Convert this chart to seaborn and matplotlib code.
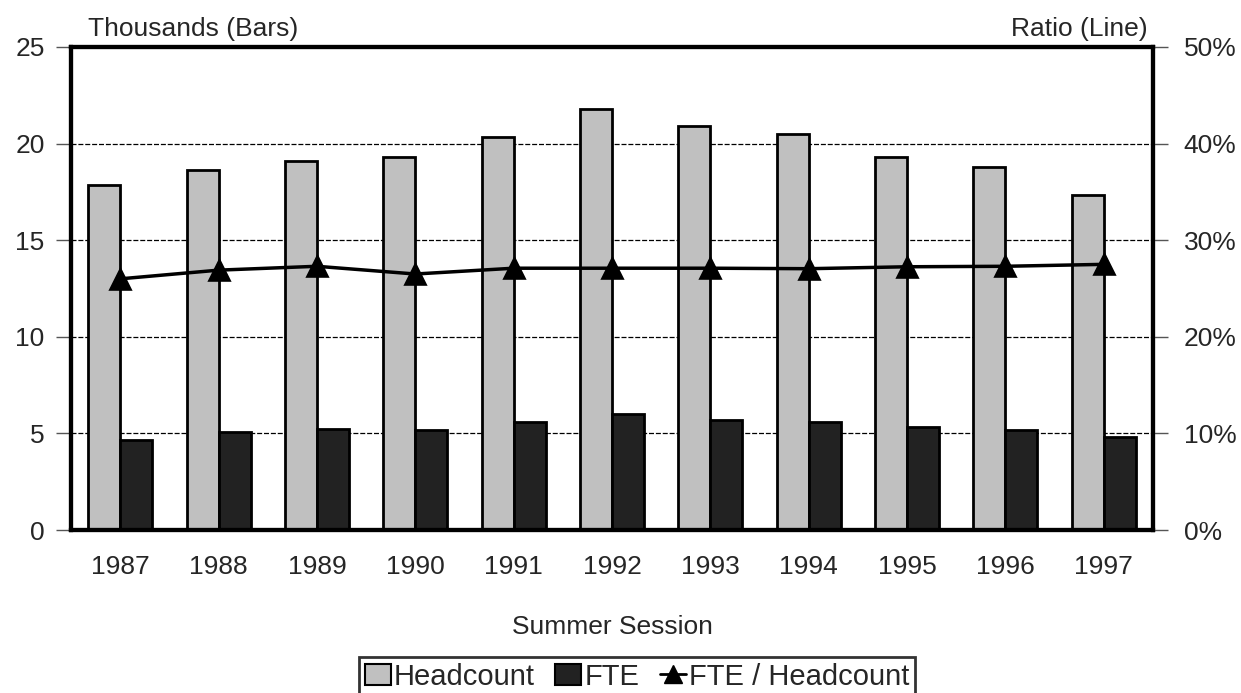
import matplotlib
matplotlib.use("Agg")
import matplotlib.pyplot as plt
import seaborn as sns
import pandas as pd
from matplotlib.patches import Patch
from matplotlib.lines import Line2D
from matplotlib.ticker import FuncFormatter

years = ["1987", "1988", "1989", "1990", "1991", "1992", "1993", "1994", "1995", "1996", "1997"]
headcount = [17.85, 18.61, 19.12, 19.31, 20.36, 21.77, 20.93, 20.48, 19.30, 18.80, 17.34]
fte = [4.67, 5.07, 5.23, 5.16, 5.58, 5.98, 5.70, 5.61, 5.31, 5.17, 4.81]
ratio = [26.0, 26.9, 27.3, 26.5, 27.1, 27.1, 27.1, 27.05, 27.25, 27.3, 27.5]
series_names = ["Headcount", "FTE", "FTE / Headcount"]
left_ticks = [0, 5, 10, 15, 20, 25]
right_ticks = [0, 10, 20, 30, 40, 50]

sns.set_style("white")
plt.rcParams["font.family"] = ["Liberation Sans", "DejaVu Sans"]

df = pd.DataFrame({
    "Year": years * 2,
    "Value": headcount + fte,
    "Series": [series_names[0]] * len(years) + [series_names[1]] * len(years),
})
df_ratio = pd.DataFrame({"Year": years, "Ratio": ratio})

fig = plt.figure(figsize=(12.41, 6.93), dpi=100)
ax = fig.add_axes([71 / 1241, 1 - 530 / 693, (1153 - 71) / 1241, (530 - 47) / 693])

FS = 19
grey = "#c0c0c0"
dark = "#222222"
sns.barplot(data=df, x="Year", y="Value", hue="Series", palette=[grey, dark],
            width=0.65, edgecolor="black", linewidth=2, ax=ax, legend=False,
            saturation=1)
ax.set_ylim(0, 25)
ax.set_yticks(left_ticks)
ax.set_axisbelow(True)
for v in left_ticks[1:-1]:
    ax.axhline(v, color="black", linestyle=(0, (4, 1.5)), linewidth=0.9, zorder=0)
ax.set_xlabel("Summer Session", fontsize=FS, labelpad=26)
ax.set_ylabel("")
ax.tick_params(axis="both", labelsize=FS, direction="out", color="#555555",
               length=11, width=1)
ax.tick_params(axis="x", pad=7)
ax.tick_params(axis="y", pad=8)
for s in ax.spines.values():
    s.set_linewidth(3)
    s.set_color("black")

ax2 = ax.twinx()
sns.pointplot(data=df_ratio, x="Year", y="Ratio", color="black", markers="^",
              markersize=14, linewidth=2.5, ax=ax2, errorbar=None)
ax2.set_ylim(0, 50)
ax2.set_yticks(right_ticks)
ax2.yaxis.set_major_formatter(FuncFormatter(lambda v, p: f"{int(v)}%"))
ax2.set_ylabel("")
ax2.set_xlabel("")
ax2.tick_params(axis="y", labelsize=FS, direction="out", color="#555555",
                length=11, width=1, pad=11)
ax2.set_xlim(-0.5, len(years) - 0.5)
ax.set_xlim(-0.5, len(years) - 0.5)
for s in ax2.spines.values():
    s.set_linewidth(3)
    s.set_color("black")

ax.text(17 / 1082, 1.012, "Thousands (Bars)", transform=ax.transAxes,
        ha="left", va="bottom", fontsize=FS)
ax.text(1 - 5 / 1082, 1.012, "Ratio (Line)", transform=ax.transAxes,
        ha="right", va="bottom", fontsize=FS)

handles = [
    Patch(facecolor=grey, edgecolor="black", linewidth=1.5),
    Patch(facecolor=dark, edgecolor="black", linewidth=1.5),
    Line2D([0], [0], color="black", marker="^", markersize=13, linewidth=2),
]
leg = fig.legend(handles, series_names, loc="upper center",
                 bbox_to_anchor=(637 / 1241, 1 - 657 / 693), ncol=3,
                 fontsize=21, frameon=True, fancybox=False,
                 handlelength=0.9, handleheight=0.75, handletextpad=0.1,
                 columnspacing=0.7, borderpad=0.2, borderaxespad=0)
leg.get_frame().set_edgecolor("black")
leg.get_frame().set_linewidth(2)

fig.savefig("out.png", dpi=100, facecolor="white")
